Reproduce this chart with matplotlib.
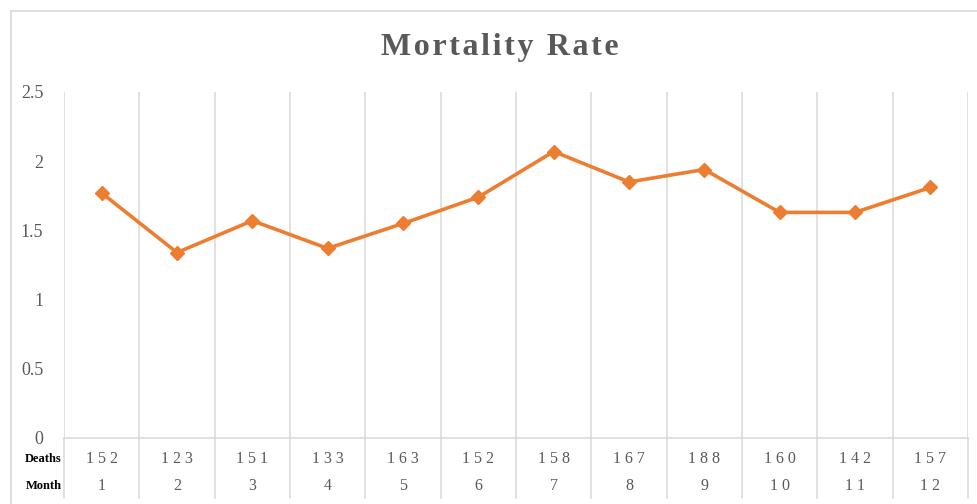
import matplotlib.pyplot as plt
from matplotlib.lines import Line2D

# data
months = ["1", "2", "3", "4", "5", "6", "7", "8", "9", "10", "11", "12"]
deaths = ["152", "123", "151", "133", "163", "152", "158", "167", "188", "160", "142", "157"]
mortality_rate = [1.77, 1.34, 1.57, 1.37, 1.55, 1.74, 2.07, 1.85, 1.94, 1.63, 1.63, 1.81]
y_ticks = [0, 0.5, 1, 1.5, 2, 2.5]
y_tick_labels = ["0", "0.5", "1", "1.5", "2", "2.5"]

plt.rcParams["font.family"] = ["Liberation Serif", "DejaVu Serif"]

GRID = "#D9D9D9"
TEXT = "#595959"
ORANGE = "#ED7D31"


def spaced(s, sep=" "):
    return sep.join(s)


fig = plt.figure(figsize=(9.77, 5.04), dpi=100)

# light frame around the chart area
fig.add_artist(Line2D([11 / 977, 1.0], [1 - 11 / 504] * 2, color=GRID, lw=1.2))
fig.add_artist(Line2D([11 / 977] * 2, [0, 1 - 11 / 504], color=GRID, lw=1.2))

ax = fig.add_axes([64 / 977, 66 / 504, 904 / 977, 346 / 504])
x = list(range(1, len(months) + 1))

ax.set_xlim(0.5, len(months) + 0.5)
ax.set_ylim(0, 2.5)

for sp in ax.spines.values():
    sp.set_visible(False)

# vertical grid lines, extended down through the data table
for b in range(len(months) + 1):
    xb = b + 0.5
    ax.plot([xb, xb], [0, 2.5], color=GRID, lw=1.1, zorder=1)
    ax.plot([xb, xb], [0, -0.43], color=GRID, lw=1.1, clip_on=False, zorder=1)
ax.plot([0.5, len(months) + 0.5], [0, 0], color=GRID, lw=1.1, clip_on=False, zorder=1)

ax.plot(x, mortality_rate, color=ORANGE, lw=2.6, marker="D", markersize=7,
        markeredgecolor=ORANGE, zorder=3)

ax.set_xticks([])
ax.set_yticks(y_ticks)
ax.set_yticklabels(y_tick_labels, fontsize=13, color=TEXT)
ax.tick_params(axis="y", length=0, pad=15)

# data table under the axis
for xi, d, m in zip(x, deaths, months):
    ax.text(xi, -0.155, spaced(d), ha="center", va="center", fontsize=11.5, color=TEXT)
    ax.text(xi, -0.35, spaced(m), ha="center", va="center", fontsize=11.5, color=TEXT)
ax.text(0.47, -0.155, "Deaths", ha="right", va="center", fontsize=9, fontweight="bold", color="black")
ax.text(0.47, -0.35, "Month", ha="right", va="center", fontsize=9, fontweight="bold", color="black")

title = spaced("Mortality", "\u200a") + "\u200a \u200a" + spaced("Rate", "\u200a")
fig.text(500 / 977, 1 - 47 / 504, title,
         ha="center", va="center", fontsize=23, fontweight="bold", color=TEXT)

fig.savefig("out.png", dpi=100, facecolor="white")
